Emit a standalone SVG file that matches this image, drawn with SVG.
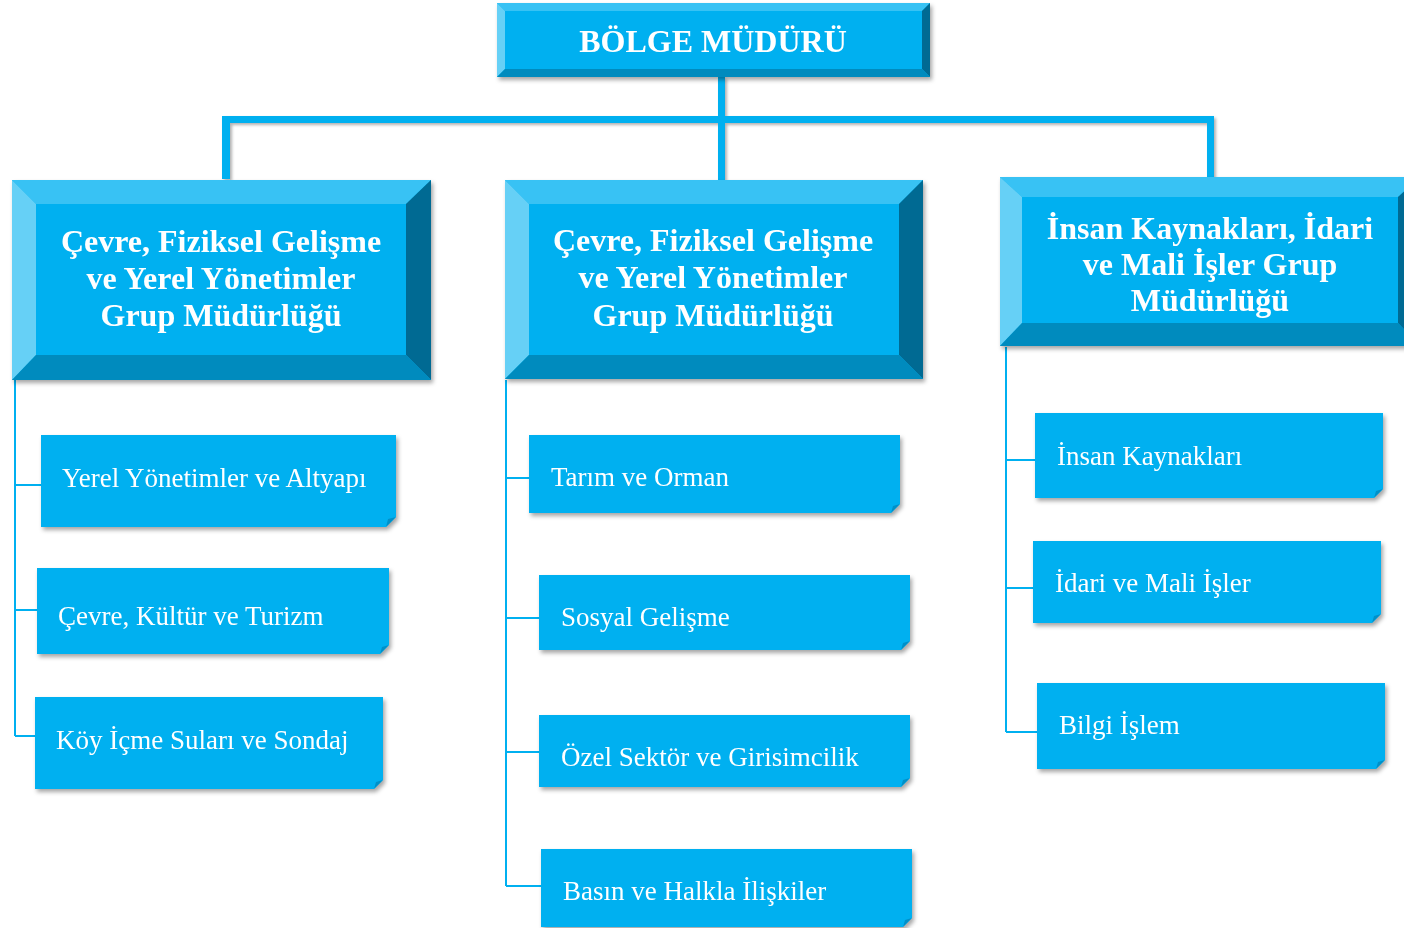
<svg xmlns="http://www.w3.org/2000/svg" width="1404" height="928" viewBox="0 0 1404 928">
<defs>
<filter id="sh" x="-5%" y="-10%" width="115%" height="130%">
<feDropShadow dx="2" dy="3" stdDeviation="2" flood-color="#000" flood-opacity="0.35"/>
</filter>
<filter id="lsh" x="-20%" y="-20%" width="140%" height="160%">
<feDropShadow dx="2" dy="2" stdDeviation="1.5" flood-color="#000" flood-opacity="0.3"/>
</filter>
<style>
.face{fill:#00B0F0}
.bt{fill:#38C2F4}
.bl{fill:#66D0F6}
.br{fill:#006B93}
.bb{fill:#008BBE}
.big{font-family:"Liberation Serif","Times New Roman",serif;font-weight:bold;fill:#fff;text-anchor:middle}
.lbl{font-family:"Liberation Serif","Times New Roman",serif;fill:#fff;font-size:27px}
.thin{stroke:#00B0F0;stroke-width:2;fill:none}
.fold{fill:#0090C8}
</style>
</defs>
<rect width="1404" height="928" fill="#fff"/>

<g id="connectors">
<g filter="url(#lsh)">
<rect x="718" y="77" width="7" height="103" fill="#00B0F0"/>
<rect x="222" y="116" width="992" height="7" fill="#00B0F0"/>
<rect x="222" y="118" width="8" height="61" fill="#00B0F0"/>
<rect x="1207" y="118" width="7" height="60" fill="#00B0F0"/>
</g>
<path class="thin" d="M15 380 V736 M15 485 H41 M15 610 H37 M15 736 H35"/>
<path class="thin" d="M506 380 V886 M506 478 H529 M506 618 H539 M506 752 H539 M506 886 H541"/>
<path class="thin" d="M1006 347 V732 M1006 460 H1035 M1006 588 H1033 M1006 732 H1037"/>
</g>

<g id="bolge-muduru" filter="url(#sh)">
<rect x="497" y="3" width="433" height="74" class="face"/>
<polygon class="bt" points="497,3 930,3 922,11 505,11"/>
<polygon class="bl" points="497,3 505,11 505,69 497,77"/>
<polygon class="br" points="930,3 930,77 922,69 922,11"/>
<polygon class="bb" points="497,77 930,77 922,69 505,69"/>
<text class="big" x="713" y="52" font-size="32">BÖLGE MÜDÜRÜ</text>
</g>

<g id="grup-sol" filter="url(#sh)">
<rect x="12" y="180" width="419" height="200" class="face"/>
<polygon class="bt" points="12,180 431,180 406,204 36,204"/>
<polygon class="bl" points="12,180 36,204 36,355 12,380"/>
<polygon class="br" points="431,180 431,380 406,355 406,204"/>
<polygon class="bb" points="12,380 431,380 406,355 36,355"/>
<text class="big" font-size="32"><tspan x="221" y="252">Çevre, Fiziksel Gelişme</tspan><tspan x="221" y="289">ve Yerel Yönetimler</tspan><tspan x="221" y="326">Grup Müdürlüğü</tspan></text>
</g>

<g id="grup-orta" filter="url(#sh)">
<rect x="505" y="180" width="418" height="199" class="face"/>
<polygon class="bt" points="505,180 923,180 899,204 529,204"/>
<polygon class="bl" points="505,180 529,204 529,355 505,379"/>
<polygon class="br" points="923,180 923,379 899,355 899,204"/>
<polygon class="bb" points="505,379 923,379 899,355 529,355"/>
<text class="big" font-size="32"><tspan x="713" y="251">Çevre, Fiziksel Gelişme</tspan><tspan x="713" y="288">ve Yerel Yönetimler</tspan><tspan x="713" y="326">Grup Müdürlüğü</tspan></text>
</g>

<g id="grup-sag" filter="url(#sh)">
<rect x="1000" y="177" width="420" height="169" class="face"/>
<polygon class="bt" points="1000,177 1420,177 1398,197 1022,197"/>
<polygon class="bl" points="1000,177 1022,197 1022,323 1000,346"/>
<polygon class="br" points="1420,177 1420,346 1398,323 1398,197"/>
<polygon class="bb" points="1000,346 1420,346 1398,323 1022,323"/>
<text class="big" font-size="32"><tspan x="1210" y="239">İnsan Kaynakları, İdari</tspan><tspan x="1210" y="275">ve Mali İşler Grup</tspan><tspan x="1210" y="311">Müdürlüğü</tspan></text>
</g>

<g id="yerel" filter="url(#sh)">
<polygon class="face" points="41,435 396,435 396,517 386,527 41,527"/>
<polygon class="fold" points="386,527 388,519 396,517"/>
<text class="lbl" x="62" y="487">Yerel Yönetimler ve Altyapı</text>
</g>
<g id="cevre-kultur" filter="url(#sh)">
<polygon class="face" points="37,568 389,568 389,645 380,654 37,654"/>
<polygon class="fold" points="380,654 382,647 389,645"/>
<text class="lbl" x="58" y="625">Çevre, Kültür ve Turizm</text>
</g>
<g id="koy" filter="url(#sh)">
<polygon class="face" points="35,697 383,697 383,780 374,789 35,789"/>
<polygon class="fold" points="374,789 376,782 383,780"/>
<text class="lbl" x="56" y="749">Köy İçme Suları ve Sondaj</text>
</g>

<g id="tarim" filter="url(#sh)">
<polygon class="face" points="529,435 900,435 900,504 891,513 529,513"/>
<polygon class="fold" points="891,513 893,506 900,504"/>
<text class="lbl" x="551" y="486">Tarım ve Orman</text>
</g>
<g id="sosyal" filter="url(#sh)">
<polygon class="face" points="539,575 910,575 910,641 901,650 539,650"/>
<polygon class="fold" points="901,650 903,643 910,641"/>
<text class="lbl" x="561" y="626">Sosyal Gelişme</text>
</g>
<g id="ozel" filter="url(#sh)">
<polygon class="face" points="539,715 910,715 910,778 901,787 539,787"/>
<polygon class="fold" points="901,787 903,780 910,778"/>
<text class="lbl" x="561" y="766">Özel Sektör ve Girisimcilik</text>
</g>
<g id="basin" filter="url(#sh)">
<polygon class="face" points="541,849 912,849 912,918 903,927 541,927"/>
<polygon class="fold" points="903,927 905,920 912,918"/>
<text class="lbl" x="563" y="900">Basın ve Halkla İlişkiler</text>
</g>

<g id="insan" filter="url(#sh)">
<polygon class="face" points="1035,413 1383,413 1383,489 1374,498 1035,498"/>
<polygon class="fold" points="1374,498 1376,491 1383,489"/>
<text class="lbl" x="1057" y="465">İnsan Kaynakları</text>
</g>
<g id="idari" filter="url(#sh)">
<polygon class="face" points="1033,541 1381,541 1381,614 1372,623 1033,623"/>
<polygon class="fold" points="1372,623 1374,616 1381,614"/>
<text class="lbl" x="1055" y="592">İdari ve Mali İşler</text>
</g>
<g id="bilgi" filter="url(#sh)">
<polygon class="face" points="1037,683 1385,683 1385,760 1376,769 1037,769"/>
<polygon class="fold" points="1376,769 1378,762 1385,760"/>
<text class="lbl" x="1059" y="734">Bilgi İşlem</text>
</g>
</svg>
